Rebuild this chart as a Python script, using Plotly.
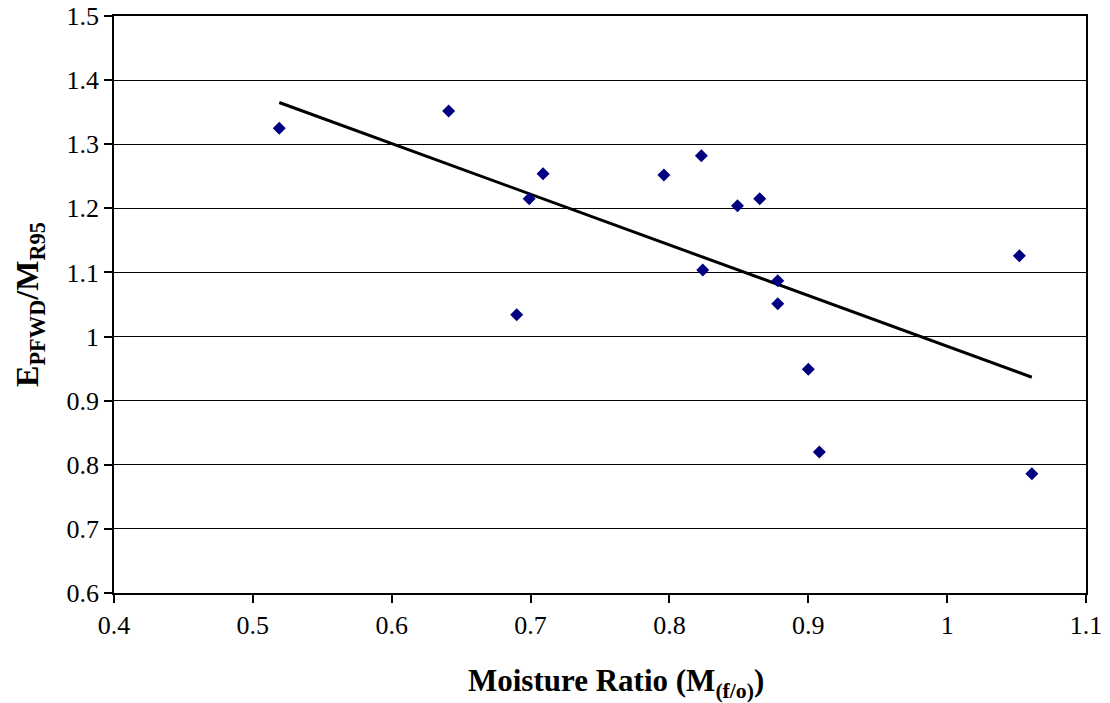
import numpy as np
import plotly.graph_objects as go

moisture_ratio = [0.519, 0.641, 0.690, 0.699, 0.709, 0.796, 0.823, 0.824,
                  0.849, 0.865, 0.878, 0.878, 0.900, 0.908, 1.052, 1.061]
e_ratio = [1.325, 1.352, 1.034, 1.215, 1.254, 1.252, 1.282, 1.104,
           1.204, 1.215, 1.087, 1.051, 0.949, 0.820, 1.126, 0.786]

x_ticks = [0.4, 0.5, 0.6, 0.7, 0.8, 0.9, 1.0, 1.1]
x_tick_labels = ["0.4", "0.5", "0.6", "0.7", "0.8", "0.9", "1", "1.1"]
y_ticks = [0.6, 0.7, 0.8, 0.9, 1.0, 1.1, 1.2, 1.3, 1.4, 1.5]
y_tick_labels = ["0.6", "0.7", "0.8", "0.9", "1", "1.1", "1.2", "1.3", "1.4", "1.5"]

slope, intercept = np.polyfit(moisture_ratio, e_ratio, 1)
trend_x = [min(moisture_ratio), max(moisture_ratio)]
trend_y = [slope * v + intercept for v in trend_x]

font_family = "Liberation Serif"

fig = go.Figure()
fig.add_trace(go.Scatter(
    x=trend_x, y=trend_y, mode="lines",
    line=dict(color="black", width=3), showlegend=False, hoverinfo="skip"))
fig.add_trace(go.Scatter(
    x=moisture_ratio, y=e_ratio, mode="markers",
    marker=dict(symbol="diamond", color="#000080", size=10,
                line=dict(width=0)),
    showlegend=False))

fig.update_layout(
    width=1110, height=703,
    margin=dict(l=114, r=24, t=16, b=110),
    paper_bgcolor="white", plot_bgcolor="white",
    font=dict(family=font_family, color="black", size=24),
    xaxis=dict(
        range=[0.4, 1.1], tickvals=x_ticks, ticktext=x_tick_labels,
        showgrid=False, zeroline=False, automargin=False,
        showline=True, linecolor="black", linewidth=1.5, mirror=True,
        ticks="outside", ticklen=8, tickcolor="black", tickwidth=1.5,
        tickfont=dict(size=26, family=font_family, color="black"),
    ),
    yaxis=dict(
        range=[0.6, 1.5], tickvals=y_ticks, ticktext=y_tick_labels,
        showgrid=True, gridcolor="black", gridwidth=1, zeroline=False,
        automargin=False,
        showline=True, linecolor="black", linewidth=1.5, mirror=True,
        ticks="outside", ticklen=8, tickcolor="black", tickwidth=1.5,
        tickfont=dict(size=26, family=font_family, color="black"),
        title=dict(text="<b>E<sub>PFWD</sub>/M<sub>R95</sub></b>",
                   font=dict(size=32, family=font_family, color="black"), standoff=18),
    ),
    annotations=[dict(
        text="<b>Moisture Ratio (M<sub>(f/o)</sub>)</b>",
        xref="paper", yref="paper", x=0.5165, y=0,
        xanchor="center", yanchor="middle", yshift=-90,
        showarrow=False,
        font=dict(size=31, family=font_family, color="black"),
    )],
)

fig.write_html("out.html")
